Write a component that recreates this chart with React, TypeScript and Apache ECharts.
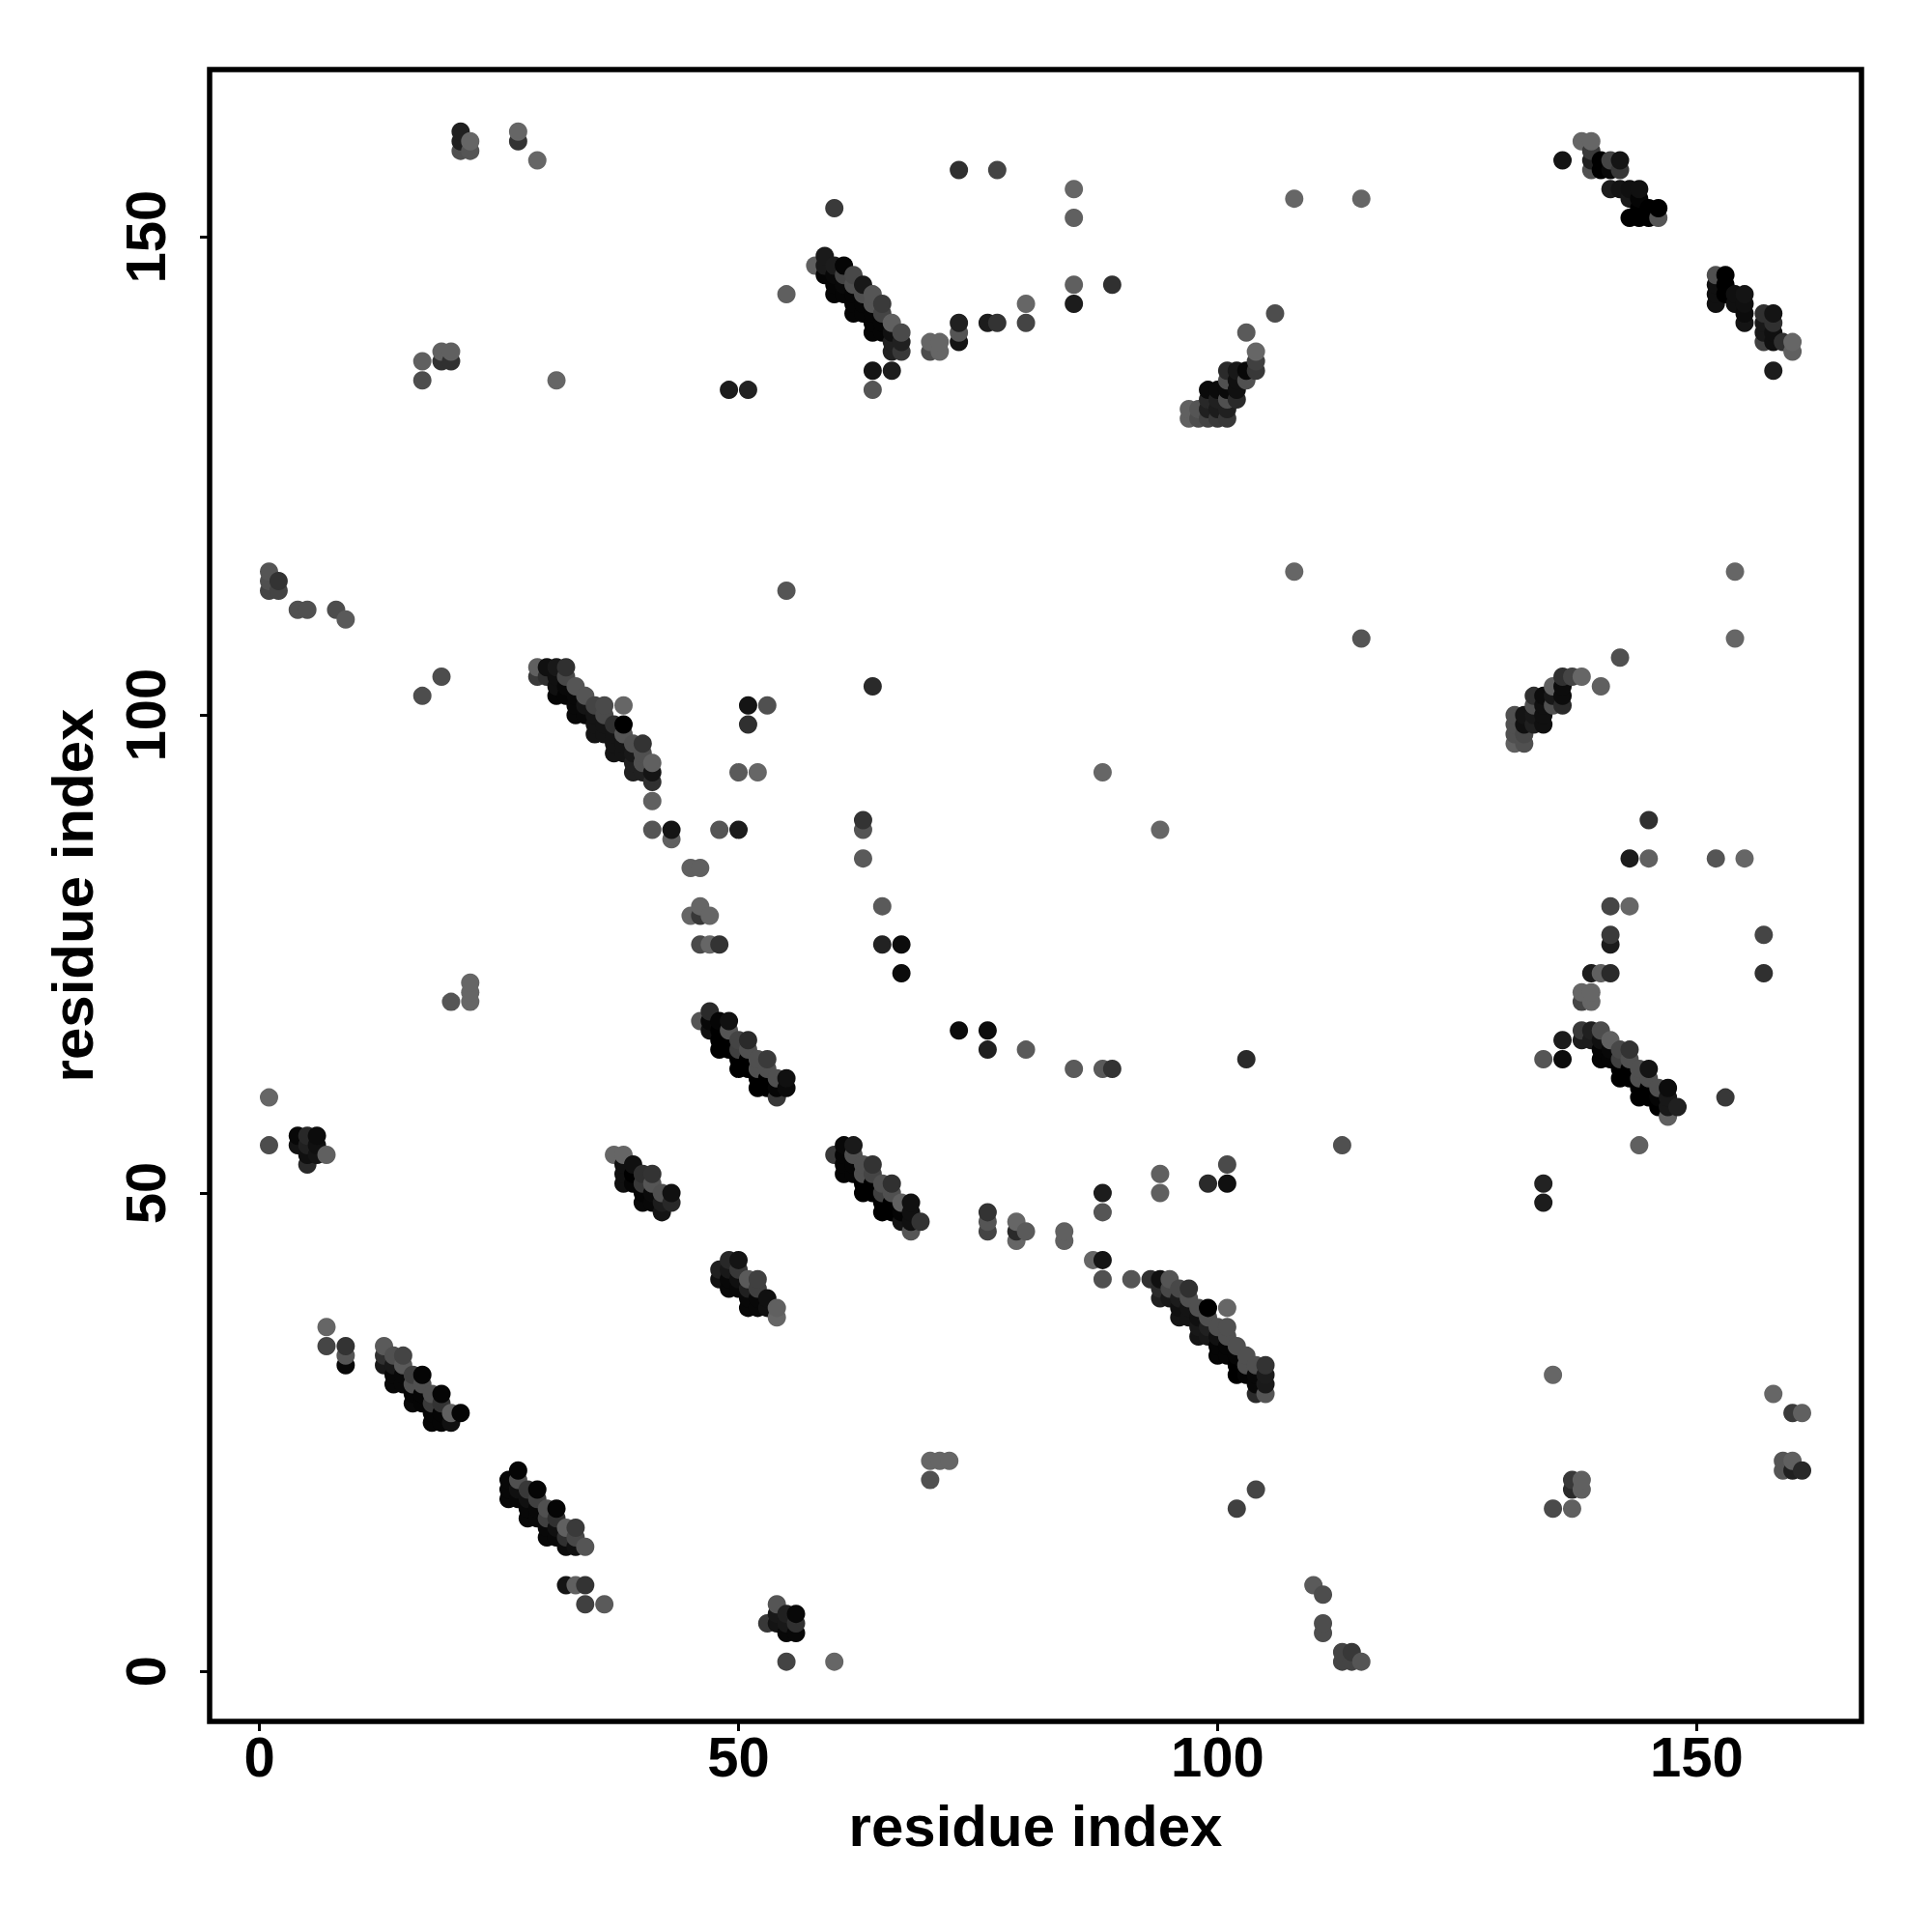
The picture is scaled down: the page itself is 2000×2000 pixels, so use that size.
import React, { useEffect, useRef } from "react";
import * as echarts from "echarts";

type C = [number, number, number];

const tickValues = [0, 50, 100, 150];
const axisName = "residue index";

// contacts as [residue x, residue y, grey level]
const bandA: C[] = [[58,147,0x60],[59,148,0x1a],[59,147,0x1a],[59,146,0x05],[60,147,0x1c],[60,146,0x08],[60,145,0x05],[60,144,0x05],[61,147,0x05],[61,146,0x44],[61,145,0x08],[61,144,0x05],[62,146,0x48],[62,145,0x50],[62,144,0x05],[62,143,0x05],[62,142,0x05],[63,145,0x18],[63,144,0x50],[63,143,0x05],[63,142,0x05],[64,144,0x55],[64,143,0x55],[64,142,0x05],[64,141,0x05],[64,140,0x05],[65,143,0x3a],[65,142,0x44],[65,141,0x05],[65,140,0x05],[66,141,0x60],[66,140,0x10],[66,139,0x20],[66,138,0x20],[67,140,0x4a],[67,139,0x20],[67,138,0x38]];
const bandB: C[] = [[97,132,0x60],[97,131,0x60],[98,132,0x55],[98,131,0x4d],[99,134,0x0a],[99,133,0x28],[99,132,0x20],[99,131,0x44],[100,134,0x0a],[100,133,0x20],[100,132,0x1c],[100,131,0x3a],[101,136,0x2a],[101,135,0x50],[101,134,0x0a],[101,133,0x50],[101,132,0x20],[101,131,0x38],[102,136,0x18],[102,135,0x10],[102,134,0x10],[102,133,0x2a],[103,136,0x08],[103,135,0x50],[104,138,0x66],[104,137,0x40],[104,136,0x38]];
const bandC: C[] = [[136,158,0x14],[138,160,0x66],[139,160,0x66],[139,159,0x3a],[139,158,0x20],[139,157,0x50],[140,158,0x00],[140,157,0x00],[141,158,0x44],[141,157,0x08],[141,155,0x1c],[142,158,0x14],[142,157,0x38],[142,155,0x14],[143,155,0x10],[143,154,0x18],[143,152,0x00],[144,155,0x10],[144,154,0x05],[144,153,0x00],[144,152,0x00],[145,153,0x00],[145,152,0x00],[146,153,0x00],[146,152,0x55]];
const bandD: C[] = [[152,146,0x50],[152,145,0x10],[152,144,0x10],[152,143,0x10],[153,146,0x00],[153,145,0x00],[153,144,0x00],[154,144,0x10],[154,143,0x10],[155,144,0x14],[155,143,0x10],[155,142,0x0c],[155,141,0x14],[157,142,0x30],[157,141,0x18],[157,140,0x18],[157,139,0x40],[158,142,0x14],[158,141,0x30],[158,140,0x10],[158,139,0x10],[158,136,0x1c],[159,139,0x30],[160,139,0x66],[160,138,0x60]];
const bandE: C[] = [[29,105,0x60],[29,104,0x3a],[30,105,0x10],[30,104,0x30],[31,105,0x18],[31,104,0x10],[31,103,0x10],[31,102,0x05],[32,105,0x30],[32,104,0x48],[32,103,0x08],[32,102,0x05],[33,103,0x55],[33,102,0x08],[33,101,0x08],[33,100,0x08],[34,102,0x55],[34,101,0x14],[34,100,0x08],[35,101,0x44],[35,100,0x14],[35,99,0x14],[35,98,0x14],[36,101,0x4a],[36,100,0x4a],[36,99,0x14],[36,98,0x14],[37,99,0x30],[37,98,0x14],[37,97,0x14],[37,96,0x14],[38,101,0x66],[38,99,0x00],[38,98,0x55],[38,97,0x14],[38,96,0x14],[39,97,0x50],[39,96,0x18],[39,95,0x20],[39,94,0x20],[40,97,0x33],[40,96,0x50],[40,95,0x50],[40,94,0x20],[41,95,0x60],[41,94,0x14],[41,93,0x30]];
const bandF: C[] = [[46,68,0x55],[47,69,0x2a],[47,68,0x08],[47,67,0x10],[48,68,0x05],[48,67,0x00],[48,66,0x00],[48,65,0x00],[49,68,0x10],[49,67,0x55],[49,66,0x00],[49,65,0x00],[50,66,0x44],[50,65,0x40],[50,64,0x00],[50,63,0x00],[51,66,0x2a],[51,65,0x50],[51,64,0x00],[51,63,0x00],[52,64,0x50],[52,63,0x50],[52,62,0x00],[52,61,0x00],[53,64,0x3a],[53,63,0x50],[53,62,0x00],[53,61,0x00],[54,62,0x50],[54,61,0x05],[54,60,0x38],[55,62,0x10],[55,61,0x0a]];
const bandG: C[] = [[4,56,0x08],[4,55,0x14],[5,56,0x28],[5,55,0x20],[5,54,0x10],[5,53,0x2a],[6,56,0x0c],[6,55,0x10],[6,54,0x14],[7,54,0x60]];
const bandH: C[] = [[37,54,0x66],[38,54,0x66],[38,53,0x10],[38,52,0x10],[38,51,0x10],[39,53,0x10],[39,52,0x00],[39,51,0x05],[40,52,0x30],[40,51,0x38],[40,50,0x05],[40,49,0x08],[41,52,0x33],[41,51,0x55],[41,50,0x0a],[41,49,0x08],[42,50,0x50],[42,49,0x1c],[42,48,0x14],[43,50,0x10],[43,49,0x28]];
const bandI: C[] = [[48,42,0x20],[48,41,0x10],[49,43,0x28],[49,42,0x18],[49,41,0x08],[49,40,0x08],[50,43,0x14],[50,42,0x38],[50,41,0x10],[50,40,0x08],[51,41,0x5a],[51,40,0x20],[51,39,0x08],[51,38,0x08],[52,41,0x40],[52,40,0x40],[52,39,0x08],[52,38,0x08],[53,39,0x10],[53,38,0x10],[54,38,0x60],[54,37,0x66]];
const bandJ: C[] = [[60,54,0x38],[61,55,0x08],[61,54,0x05],[61,53,0x05],[61,52,0x05],[62,55,0x1a],[62,54,0x50],[62,53,0x05],[62,52,0x05],[63,53,0x50],[63,52,0x50],[63,51,0x00],[63,50,0x00],[64,53,0x33],[64,52,0x45],[64,51,0x00],[64,50,0x00],[65,51,0x50],[65,50,0x40],[65,49,0x00],[65,48,0x00],[66,51,0x30],[66,50,0x50],[66,49,0x00],[66,48,0x00],[67,49,0x60],[67,48,0x04],[67,47,0x14],[68,49,0x10],[68,48,0x10],[68,47,0x10],[68,46,0x55],[69,47,0x33]];
const bandK: C[] = [[93,41,0x30],[94,41,0x10],[94,40,0x2a],[94,39,0x20],[95,41,0x55],[95,40,0x48],[95,39,0x18],[96,40,0x48],[96,39,0x1c],[96,38,0x10],[96,37,0x14],[97,40,0x30],[97,39,0x50],[97,38,0x14],[97,37,0x14],[98,38,0x50],[98,37,0x10],[98,36,0x18],[98,35,0x14],[99,38,0x00],[99,37,0x50],[99,36,0x20],[99,35,0x18],[100,36,0x50],[100,35,0x10],[100,34,0x05],[100,33,0x05],[101,38,0x66],[101,36,0x50],[101,35,0x50],[101,34,0x05],[101,33,0x05],[102,34,0x50],[102,33,0x05],[102,32,0x00],[102,31,0x00],[103,33,0x50],[103,32,0x50],[103,31,0x05],[104,32,0x50],[104,31,0x08],[104,30,0x08],[104,29,0x2a],[105,32,0x33],[105,31,0x1c],[105,30,0x1a],[105,29,0x55]];
const bandL: C[] = [[13,34,0x5a],[13,33,0x30],[13,32,0x18],[14,33,0x50],[14,32,0x18],[14,31,0x08],[14,30,0x08],[15,33,0x44],[15,32,0x5a],[15,31,0x08],[15,30,0x08],[16,31,0x40],[16,30,0x50],[16,29,0x05],[16,28,0x08],[17,31,0x05],[17,30,0x50],[17,29,0x05],[17,28,0x05],[18,29,0x50],[18,28,0x3a],[18,27,0x05],[18,26,0x05],[19,29,0x05],[19,28,0x33],[19,27,0x05],[19,26,0x05],[20,27,0x60],[20,26,0x10],[21,27,0x05]];
const bandM: C[] = [[26,20,0x08],[26,19,0x08],[26,18,0x08],[27,21,0x05],[27,20,0x50],[27,19,0x10],[27,18,0x08],[28,19,0x38],[28,18,0x10],[28,17,0x08],[28,16,0x08],[29,19,0x05],[29,18,0x40],[29,17,0x08],[29,16,0x08],[30,17,0x50],[30,16,0x40],[30,15,0x08],[30,14,0x08],[31,17,0x05],[31,16,0x30],[31,15,0x10],[31,14,0x08],[32,15,0x60],[32,14,0x30],[32,13,0x0c],[33,15,0x3a],[33,14,0x48],[33,13,0x10],[34,13,0x55]];
const bandN: C[] = [[131,100,0x50],[131,99,0x50],[131,98,0x50],[131,97,0x60],[132,100,0x14],[132,99,0x10],[132,98,0x48],[132,97,0x50],[133,102,0x30],[133,101,0x50],[133,100,0x18],[133,99,0x20],[134,102,0x0c],[134,101,0x10],[134,100,0x10],[134,99,0x10],[135,103,0x60],[135,102,0x18],[135,101,0x50],[136,104,0x30],[136,103,0x0c],[136,102,0x0c],[136,101,0x2a],[137,104,0x44],[138,104,0x66]];
const bandO: C[] = [[138,67,0x3a],[138,66,0x1c],[139,67,0x20],[139,66,0x1c],[140,67,0x4d],[140,66,0x10],[140,65,0x05],[140,64,0x05],[141,66,0x60],[141,65,0x08],[141,64,0x05],[142,65,0x48],[142,64,0x40],[142,63,0x00],[142,62,0x00],[143,65,0x33],[143,64,0x50],[143,63,0x00],[143,62,0x00],[144,63,0x50],[144,62,0x50],[144,61,0x00],[144,60,0x00],[145,63,0x14],[145,62,0x50],[145,61,0x00],[145,60,0x00],[146,61,0x50],[146,60,0x05],[146,59,0x00],[147,61,0x0c],[147,60,0x18],[147,59,0x18],[147,58,0x60],[148,59,0x20]];
const cornerLow: C[] = [[53,5,0x38],[54,7,0x55],[54,6,0x18],[54,5,0x14],[55,6,0x20],[55,5,0x18],[55,4,0x08],[56,6,0x08],[56,5,0x30],[56,4,0x08],[55,1,0x44],[60,1,0x66],[32,9,0x14],[33,9,0x60],[34,9,0x33],[34,7,0x40],[36,7,0x5a],[7,36,0x66],[7,34,0x45],[9,34,0x33],[9,33,0x55],[9,32,0x08],[70,22,0x66],[71,22,0x66],[72,22,0x66],[70,20,0x50],[102,17,0x40],[104,19,0x45],[110,9,0x5a],[111,8,0x4d],[111,5,0x4d],[111,4,0x4d],[113,2,0x44],[114,2,0x38],[113,1,0x44],[114,1,0x44],[115,1,0x55],[135,31,0x66],[137,20,0x38],[137,19,0x2a],[138,20,0x60],[138,19,0x60],[135,17,0x4a],[137,17,0x60],[158,29,0x66],[160,27,0x3a],[161,27,0x60],[159,22,0x55],[160,22,0x60],[159,21,0x55],[160,21,0x20],[161,21,0x28],[134,51,0x22],[134,49,0x1c],[113,55,0x50],[144,55,0x60]];
const scatterMid: C[] = [[76,48,0x33],[76,47,0x55],[76,46,0x44],[79,47,0x66],[79,46,0x2a],[79,45,0x66],[80,46,0x5a],[84,46,0x60],[84,45,0x60],[88,50,0x1c],[88,48,0x55],[87,43,0x66],[88,43,0x14],[88,41,0x50],[91,41,0x55],[94,52,0x60],[94,50,0x60],[99,51,0x2a],[101,51,0x10],[101,53,0x4a],[1,60,0x66],[1,55,0x4d],[22,72,0x66],[22,71,0x66],[22,70,0x66],[20,70,0x55],[73,67,0x0c],[76,67,0x0c],[76,65,0x20],[80,65,0x5a],[85,63,0x5a],[88,63,0x5a],[89,63,0x33],[103,64,0x2a],[134,64,0x55],[136,66,0x1c],[136,64,0x0c],[153,60,0x38]];
const scatterCentre: C[] = [[41,91,0x60],[41,88,0x55],[43,88,0x14],[43,87,0x60],[48,88,0x55],[50,88,0x1c],[45,84,0x60],[46,84,0x60],[46,80,0x66],[45,79,0x66],[46,79,0x38],[47,79,0x66],[46,76,0x4a],[47,76,0x66],[48,76,0x33],[51,101,0x14],[51,99,0x30],[53,101,0x50],[50,94,0x5a],[52,94,0x66],[63,89,0x33],[63,88,0x55],[63,85,0x5a],[65,80,0x5a],[65,76,0x22],[67,76,0x0c],[67,73,0x0c],[64,103,0x2a],[88,94,0x66],[94,88,0x66],[17,102,0x4d],[19,104,0x4d],[55,113,0x55],[115,108,0x55],[108,115,0x66],[154,115,0x66],[154,108,0x66],[142,106,0x50],[140,103,0x60],[145,89,0x30],[143,85,0x1c],[145,85,0x60],[152,85,0x55],[155,85,0x66],[141,80,0x45],[143,80,0x66],[141,77,0x3a],[141,76,0x1c],[157,77,0x45],[157,73,0x30],[139,73,0x1c],[140,73,0x60],[141,73,0x2a],[138,71,0x66],[139,71,0x66],[138,70,0x45],[139,70,0x66]];
const scatterHigh: C[] = [[21,161,0x20],[21,160,0x20],[21,159,0x50],[22,160,0x66],[22,159,0x55],[27,161,0x66],[27,160,0x33],[29,158,0x66],[17,137,0x60],[17,135,0x4d],[19,138,0x60],[20,138,0x60],[19,137,0x30],[20,137,0x30],[31,135,0x66],[49,134,0x1c],[51,134,0x22],[1,115,0x55],[1,114,0x50],[2,114,0x33],[1,113,0x44],[2,113,0x44],[4,111,0x50],[5,111,0x50],[8,111,0x4d],[9,110,0x5a],[55,144,0x5f],[60,153,0x3a],[73,157,0x30],[77,157,0x44],[85,155,0x66],[85,152,0x60],[108,154,0x66],[115,154,0x66],[85,145,0x5f],[89,145,0x30],[85,143,0x1c],[80,143,0x66],[80,141,0x44],[76,141,0x1c],[77,141,0x33],[73,141,0x20],[73,140,0x55],[73,139,0x14],[70,139,0x66],[71,139,0x66],[70,138,0x4d],[71,138,0x66],[64,136,0x14],[66,136,0x1c],[64,134,0x55],[106,142,0x4d],[103,140,0x5a]];

const allContacts: C[] = [bandA, bandB, bandC, bandD, bandE, bandF, bandG, bandH, bandI, bandJ, bandK, bandL, bandM, bandN, bandO, cornerLow, scatterMid, scatterCentre, scatterHigh].flat();

export default function App() {
  const ref = useRef<HTMLDivElement>(null);
  useEffect(() => {
    const chart = echarts.init(ref.current!, undefined, { renderer: "svg" });
    const sorted = [...allContacts].sort((a, b) => a[0] - b[0] || a[1] - b[1]);
    const font = "'Liberation Sans', Arial, sans-serif";
    chart.setOption({
      animation: false,
      backgroundColor: "#ffffff",
      grid: {
        left: 217,
        right: 73,
        top: 72,
        bottom: 218,
        show: true,
        borderColor: "#000000",
        borderWidth: 5.5,
        backgroundColor: "transparent",
      },
      xAxis: {
        type: "value",
        min: -5.2,
        max: 167.2,
        splitLine: { show: false },
        axisLine: { show: false, onZero: false },
        axisTick: { show: true, customValues: tickValues, length: 10, lineStyle: { color: "#000", width: 3 } },
        axisLabel: {
          customValues: tickValues,
          color: "#000",
          fontFamily: font,
          fontWeight: "bold",
          fontSize: 58,
          margin: 7,
          showMinLabel: true,
          showMaxLabel: true,
        },
        name: axisName,
        nameLocation: "middle",
        nameGap: 78,
        nameTextStyle: { color: "#000", fontFamily: font, fontWeight: "bold", fontSize: 60 },
      },
      yAxis: {
        type: "value",
        min: -5.25,
        max: 167.5,
        splitLine: { show: false },
        axisLine: { show: false, onZero: false },
        axisTick: { show: true, customValues: tickValues, length: 10, lineStyle: { color: "#000", width: 3 } },
        axisLabel: {
          customValues: tickValues,
          color: "#000",
          fontFamily: font,
          fontWeight: "bold",
          fontSize: 58,
          rotate: 90,
          margin: 38,
          showMinLabel: true,
          showMaxLabel: true,
        },
        name: axisName,
        nameLocation: "middle",
        nameRotate: 90,
        nameGap: 112,
        nameTextStyle: { color: "#000", fontFamily: font, fontWeight: "bold", fontSize: 60 },
      },
      series: [
        {
          type: "scatter",
          symbol: "circle",
          symbolSize: 19,
          data: sorted.map((d) => ({
            value: [d[0], d[1]],
            itemStyle: { color: `rgb(${d[2]},${d[2]},${d[2]})`, opacity: 1 },
          })),
          emphasis: { disabled: true },
          silent: true,
          large: false,
          progressive: 0,
        },
      ],
    });
    return () => chart.dispose();
  }, []);
  return <div ref={ref} style={{ position: "absolute", left: 0, top: 0, width: 2000, height: 2000 }} />;
}
